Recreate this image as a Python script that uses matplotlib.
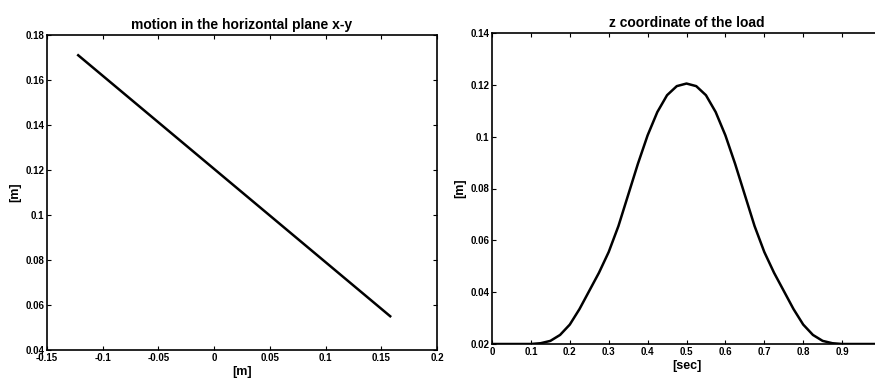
"""
Load trajectory: x-y plane motion and z coordinate vs time.
"""

import matplotlib
matplotlib.use("Agg")
import matplotlib.pyplot as plt
from matplotlib.ticker import FuncFormatter, MultipleLocator

# horizontal plane (straight segment)
xy_x = [-0.122, 0.158]
xy_y = [0.171, 0.055]

# z coordinate of the load
t_sec = [0.0, 0.05, 0.1, 0.125, 0.15, 0.175, 0.2, 0.225, 0.25, 0.275, 0.3, 0.325,
         0.35, 0.375, 0.4, 0.425, 0.45, 0.475, 0.5, 0.525, 0.55, 0.575, 0.6,
         0.625, 0.65, 0.675, 0.7, 0.725, 0.75, 0.775, 0.8, 0.825, 0.85, 0.875,
         0.9, 0.95, 1.0]
z_m = [0.02, 0.02, 0.02, 0.0203, 0.0212, 0.0235, 0.0275, 0.0335, 0.0405, 0.0475,
       0.0555, 0.0655, 0.0775, 0.0895, 0.1005, 0.1095, 0.116, 0.1195, 0.1205,
       0.1195, 0.116, 0.1095, 0.1005, 0.0895, 0.0775, 0.0655, 0.0555, 0.0475,
       0.0405, 0.0335, 0.0275, 0.0235, 0.0212, 0.0203, 0.02, 0.02, 0.02]

FONT = "Liberation Sans"


def fmt_tick(v, _, vmax=None):
    if vmax is not None and v > vmax:
        return ""
    return f"{v:g}" if abs(v) > 1e-12 else "0"


def style(ax):
    ax.tick_params(direction="in", top=True, right=True, length=3, width=0.8,
                   labelsize=7, pad=2)
    for lab in ax.get_xticklabels() + ax.get_yticklabels():
        lab.set_fontweight("bold"); lab.set_family(FONT)
    for s in ax.spines.values():
        s.set_linewidth(1.2); s.set_color("black")
    ax.yaxis.set_major_formatter(FuncFormatter(fmt_tick))


fig = plt.figure(figsize=(8.75, 3.8), dpi=100)

ax1 = fig.add_axes([47 / 875, 30 / 380, 390 / 875, 315 / 380])
ax1.plot(xy_x, xy_y, color="black", linewidth=1.8)
ax1.set_xlim(-0.15, 0.2); ax1.set_ylim(0.04, 0.18)
ax1.xaxis.set_major_locator(MultipleLocator(0.05))
ax1.yaxis.set_major_locator(MultipleLocator(0.02))
ax1.xaxis.set_major_formatter(FuncFormatter(fmt_tick))
style(ax1)
ax1.set_title("motion in the horizontal plane x-y", fontsize=10, fontweight="bold",
              family=FONT, pad=4)
ax1.set_xlabel("[m]", fontsize=9, fontweight="bold", family=FONT, labelpad=2)
ax1.set_ylabel("[m]", fontsize=9, fontweight="bold", family=FONT, labelpad=3)

# right axes runs past the figure edge, as in the cropped original
ax2 = fig.add_axes([492 / 875, 36 / 380, 389 / 875, 311 / 380])
ax2.plot(t_sec, z_m, color="black", linewidth=1.8)
ax2.set_xlim(0, 1); ax2.set_ylim(0.02, 0.14)
ax2.xaxis.set_major_locator(MultipleLocator(0.1))
ax2.yaxis.set_major_locator(MultipleLocator(0.02))
ax2.xaxis.set_major_formatter(FuncFormatter(lambda v, p: fmt_tick(v, p, vmax=0.95)))
style(ax2)
ax2.set_title("z coordinate of the load", fontsize=10, fontweight="bold",
              family=FONT, pad=4)
ax2.set_xlabel("[sec]", fontsize=9, fontweight="bold", family=FONT, labelpad=2)
ax2.set_ylabel("[m]", fontsize=9, fontweight="bold", family=FONT, labelpad=3)

fig.savefig("out.png", dpi=100)
